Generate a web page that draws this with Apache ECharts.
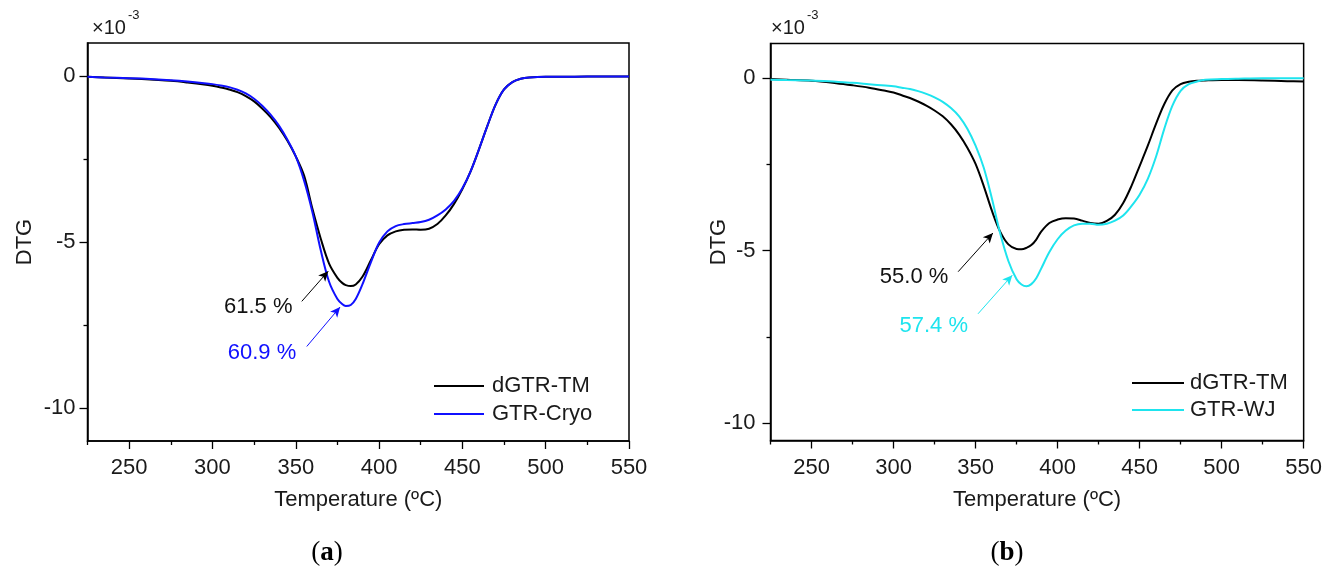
<!DOCTYPE html>
<html><head><meta charset="utf-8">
<script src="https://cdn.jsdelivr.net/npm/echarts@6/dist/echarts.min.js"></script>
<style>html,body{margin:0;padding:0;background:#fff}#c{width:1325px;height:571px}</style>
</head><body><div id="c"></div>
<script>
// ---------- data ----------
const tempsA = [225,235,250,265,275,285,295,300,305,310,315,320,325,330,335,340,345,350,355,360,365,370,375,378,380,383,386,390,395,400,405,410,415,420,425,430,435,440,445,450,455,460,465,470,475,480,485,490,500,510,525,540,550];
const dgtrA  = [-0.02,-0.04,-0.07,-0.11,-0.14,-0.19,-0.25,-0.29,-0.34,-0.40,-0.48,-0.60,-0.76,-0.98,-1.24,-1.56,-1.95,-2.42,-3.0,-4.0,-4.9,-5.65,-6.08,-6.24,-6.3,-6.33,-6.28,-6.05,-5.56,-5.07,-4.8,-4.68,-4.63,-4.62,-4.63,-4.6,-4.46,-4.2,-3.85,-3.4,-2.86,-2.2,-1.5,-0.85,-0.4,-0.18,-0.08,-0.04,-0.02,-0.02,-0.01,-0.01,-0.01];
const cryoA  = [-0.02,-0.04,-0.06,-0.09,-0.12,-0.16,-0.21,-0.24,-0.28,-0.33,-0.41,-0.52,-0.68,-0.9,-1.17,-1.5,-1.92,-2.42,-3.15,-4.1,-5.25,-6.2,-6.72,-6.88,-6.93,-6.9,-6.72,-6.28,-5.62,-5.02,-4.68,-4.52,-4.46,-4.43,-4.4,-4.33,-4.2,-4.02,-3.76,-3.38,-2.86,-2.2,-1.5,-0.85,-0.4,-0.18,-0.08,-0.04,-0.02,-0.02,-0.01,-0.01,-0.01];

const tempsB = [225,235,250,265,275,285,295,300,305,310,315,320,325,330,335,340,345,350,355,360,365,370,375,378,381,384,387,390,395,400,405,410,415,420,425,430,435,440,445,450,455,460,465,470,475,480,485,490,500,510,525,540,550];
const dgtrB  = [-0.03,-0.05,-0.08,-0.15,-0.21,-0.28,-0.37,-0.42,-0.5,-0.58,-0.68,-0.8,-0.94,-1.11,-1.34,-1.64,-2.02,-2.49,-3.13,-3.85,-4.45,-4.82,-4.95,-4.96,-4.92,-4.84,-4.68,-4.45,-4.2,-4.1,-4.06,-4.07,-4.13,-4.2,-4.22,-4.14,-3.96,-3.62,-3.13,-2.55,-1.96,-1.33,-0.76,-0.36,-0.18,-0.11,-0.08,-0.07,-0.06,-0.06,-0.07,-0.09,-0.1];
const wjB    = [-0.05,-0.06,-0.07,-0.11,-0.14,-0.18,-0.22,-0.24,-0.28,-0.32,-0.38,-0.46,-0.56,-0.69,-0.87,-1.11,-1.47,-1.96,-2.6,-3.5,-4.5,-5.3,-5.83,-5.98,-6.03,-5.97,-5.8,-5.52,-5.04,-4.67,-4.42,-4.27,-4.22,-4.22,-4.25,-4.22,-4.13,-3.98,-3.71,-3.38,-2.92,-2.28,-1.48,-0.8,-0.37,-0.18,-0.1,-0.05,-0.03,-0.02,-0.01,-0.01,-0.01];

const xMajorTicks = [250,300,350,400,450,500,550];
const xMinorTicks = [225,275,325,375,425,475,525];
const yMajorTicks = [-10,-5,0];
const yMinorTicks = [-7.5,-2.5];

// annotations [label, textPos[T,v], arrowFrom[T,v], arrowTo[T,v]]
const notesA = [
  ['61.5 %', [327.5,-6.96], [353.6,-6.79], [369.5,-5.88]],
  ['60.9 %', [329.7,-8.35], [356.6,-8.15], [376.6,-6.96]]
];
const notesB = [
  ['55.0 %', [312.5,-5.76], [339.4,-5.61], [360.6,-4.49]],
  ['57.4 %', [324.5,-7.19], [351.5,-6.83], [372.4,-5.71]]
];

// ---------- styling ----------
const FONT = 'Liberation Sans, Arial, sans-serif';
const BLACK = '#000000', BLUE = '#1010ff', CYAN = '#1ee4ee';
const TXT = '#1a1a1a';

function pairs(t, v){ return t.map((x,i)=>[x, v[i]]); }

function xAxes(grid, name){
  return [
    {gridIndex:grid, type:'value', position:'bottom', min:225, max:550, interval:25,
     axisLine:{show:true, onZero:false, lineStyle:{color:BLACK, width:1.5}},
     axisTick:{show:true, customValues:xMajorTicks, length:8, lineStyle:{color:BLACK, width:1.3}},
     axisLabel:{customValues:xMajorTicks, fontSize:22, fontFamily:FONT, color:TXT, margin:16},
     splitLine:{show:false},
     name:name, nameLocation:'middle', nameGap:48, nameMoveOverlap:false,
     nameTextStyle:{fontSize:22, fontFamily:FONT, color:TXT}},
    {gridIndex:grid, type:'value', position:'bottom', offset:0, min:225, max:550, interval:25,
     axisLine:{show:false, onZero:false},
     axisTick:{show:true, customValues:xMinorTicks, length:4, lineStyle:{color:BLACK, width:1.3}},
     axisLabel:{show:false}, splitLine:{show:false}}
  ];
}
function yAxes(grid, min, gap, lm){
  return [
    {gridIndex:grid, type:'value', position:'left', min:min, max:1, interval:0.5,
     axisLine:{show:true, onZero:false, lineStyle:{color:BLACK, width:1.5}},
     axisTick:{show:true, customValues:yMajorTicks, length:8, lineStyle:{color:BLACK, width:1.3}},
     axisLabel:{customValues:yMajorTicks, fontSize:22, fontFamily:FONT, color:TXT, margin:lm},
     splitLine:{show:false},
     name:'DTG', nameLocation:'middle', nameRotate:90, nameGap:gap, nameMoveOverlap:false,
     nameTextStyle:{fontSize:22, fontFamily:FONT, color:TXT}},
    {gridIndex:grid, type:'value', position:'left', offset:0, min:min, max:1, interval:0.5,
     axisLine:{show:false, onZero:false},
     axisTick:{show:true, customValues:yMinorTicks, length:4, lineStyle:{color:BLACK, width:1.3}},
     axisLabel:{show:false}, splitLine:{show:false}}
  ];
}

function lineSeries(name, xi, yi, data, color, notes){
  const s = {
    name:name, type:'line', xAxisIndex:xi, yAxisIndex:yi, data:data,
    symbol:'none', smooth:0.35, lineStyle:{color:color, width:2}, itemStyle:{color:color},
    silent:true, z:3
  };
  if (notes){
    s.markLine = {
      silent:true, symbol:['none','arrow'], symbolSize:[7,10],
      label:{show:false},
      lineStyle:{color:color, width:1, type:'solid'},
      data: notes.map(n => [{coord:n[2]}, {coord:n[3]}])
    };
    s.markPoint = {
      silent:true, symbol:'rect', symbolSize:1, itemStyle:{color:'rgba(0,0,0,0)'},
      label:{show:true, position:'inside', fontSize:22, fontFamily:FONT, color:color === BLACK ? '#111' : color},
      data: notes.map(n => ({coord:n[1], value:n[0], label:{formatter:n[0]}}))
    };
  }
  return s;
}

const chart = echarts.init(document.getElementById('c'), null, {renderer:'canvas'});
chart.setOption({
  animation:false,
  backgroundColor:'#ffffff',
  grid:[
    {left:87.5, top:43, width:541.5, height:398, show:true, borderColor:BLACK, borderWidth:1.5, containLabel:false},
    {left:770.5, top:43.5, width:535.5, height:397, show:true, borderColor:BLACK, borderWidth:1.5, containLabel:false}
  ],
  xAxis:[...xAxes(0,'Temperature (ºC)'), ...xAxes(1,'Temperature (ºC)')],
  yAxis:[...yAxes(0,-11,52,12), ...yAxes(1,-10.5,41,15)],
  legend:[
    {data:['dGTR-TM','GTR-Cryo'], orient:'vertical', left:429, top:370, icon:'rect', itemWidth:50, itemHeight:2, itemGap:6,
     textStyle:{fontSize:22, fontFamily:FONT, color:TXT, padding:[0,0,0,3]}, selectedMode:false},
    {data:['dGTR-TM','GTR-WJ'], orient:'vertical', left:1127, top:367, icon:'rect', itemWidth:52, itemHeight:2, itemGap:5,
     textStyle:{fontSize:22, fontFamily:FONT, color:TXT, padding:[0,0,0,1]}, selectedMode:false}
  ],
  series:[
    lineSeries('dGTR-TM', 0, 0, pairs(tempsA, dgtrA), BLACK, [notesA[0]]),
    lineSeries('GTR-Cryo', 0, 0, pairs(tempsA, cryoA), BLUE, [notesA[1]]),
    lineSeries('dGTR-TM', 2, 2, pairs(tempsB, dgtrB), BLACK, [notesB[0]]),
    lineSeries('GTR-WJ', 2, 2, pairs(tempsB, wjB), CYAN, [notesB[1]])
  ],
  graphic:[
    {type:'text', left:92, top:18, style:{text:'×10', fontSize:20, fontFamily:FONT, fill:TXT}},
    {type:'text', left:128, top:9, style:{text:'-3', fontSize:13, fontFamily:FONT, fill:TXT}},
    {type:'text', left:771, top:18, style:{text:'×10', fontSize:20, fontFamily:FONT, fill:TXT}},
    {type:'text', left:807, top:9, style:{text:'-3', fontSize:13, fontFamily:FONT, fill:TXT}},
    {type:'text', x:327, y:553, style:{text:'({b|a})', fontSize:27, fontFamily:'Liberation Serif, Times New Roman, serif', fill:'#000', align:'center', verticalAlign:'middle',
      rich:{b:{fontWeight:'bold', fontSize:27, fontFamily:'Liberation Serif, Times New Roman, serif', fill:'#000'}}}},
    {type:'text', x:1007, y:553, style:{text:'({b|b})', fontSize:27, fontFamily:'Liberation Serif, Times New Roman, serif', fill:'#000', align:'center', verticalAlign:'middle',
      rich:{b:{fontWeight:'bold', fontSize:27, fontFamily:'Liberation Serif, Times New Roman, serif', fill:'#000'}}}}
  ]
});
</script>
</body></html>
